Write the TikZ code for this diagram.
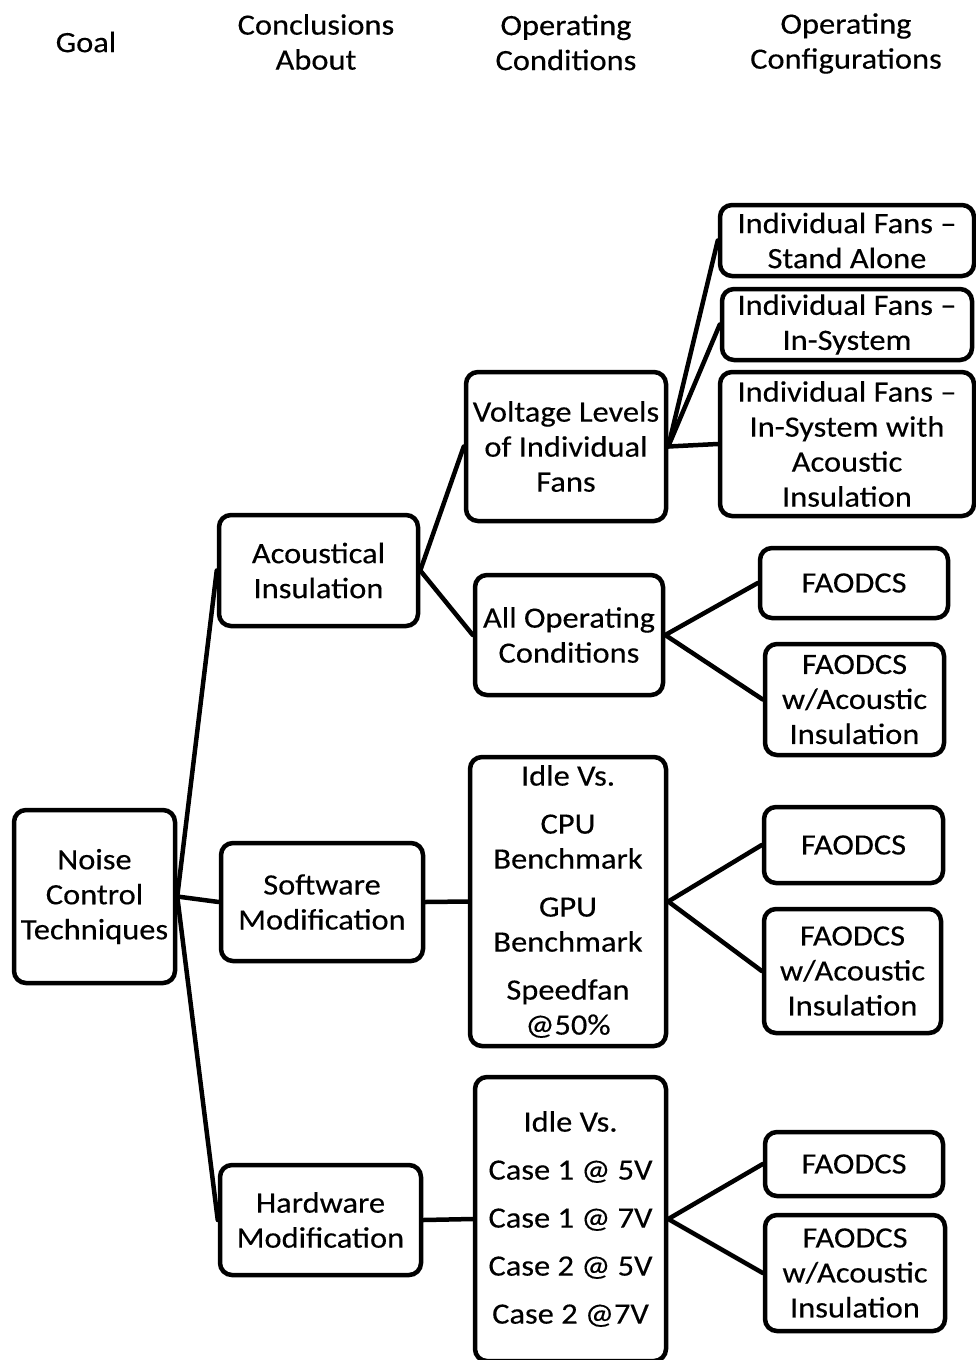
\documentclass[tikz,border=0pt]{standalone}
\usepackage{fontspec}
\setmainfont{Carlito}[FakeStretch=1.1,FakeBold=0.3]
\begin{document}
\begin{tikzpicture}[x=1pt,y=-1pt,
  every node/.style={font=\fontsize{29.5}{35}\selectfont},
  box/.style={draw, line width=4.5pt, rounded corners=12pt, align=center,
              inner sep=0pt, fill=white},
  head/.style={align=center, inner sep=0pt},
  link/.style={line width=4.5pt, line cap=round}]
\useasboundingbox (0,0) rectangle (976,1360);

% column headings
\node[head] (hgoal) at (86,42) {Goal};
\node[head] (hconc) at (316,42) {Conclusions\\About};
\node[head] (hcond) at (566,42.5) {Operating\\Conditions};
\node[head] (hconf) at (846,43.5) {Operating\\Configurations};

% goal
\node[box, minimum width=161, minimum height=173] (noise) at (94.5,896.5)
  {Noise\\Control\\Techniques};

% conclusions
\node[box, minimum width=199, minimum height=111] (acou) at (318.5,570.5)
  {Acoustical\\Insulation};
\node[box, minimum width=202, minimum height=118] (soft) at (322,902)
  {Software\\Modification};
\node[box, minimum width=201, minimum height=110] (hard) at (320.5,1220)
  {Hardware\\Modification};

% operating conditions
\node[box, minimum width=200, minimum height=149] (volt) at (566,446.5)
  {Voltage Levels\\of Individual\\Fans};
\node[box, minimum width=188, minimum height=120] (allop) at (569,635)
  {All Operating\\Conditions};
\node[box, minimum width=196, minimum height=289] (idle) at (568,901.5)
  {Idle Vs.\\[13pt]CPU\\Benchmark\\[13pt]GPU\\Benchmark\\[13pt]Speedfan\\@50\%};
\node[box, minimum width=191, minimum height=284] (cases) at (570.5,1219)
  {Idle Vs.\\[13pt]Case 1 @ 5V\\[13pt]Case 1 @ 7V\\[13pt]Case 2 @ 5V\\[13pt]Case 2 @7V};

% operating configurations
\node[box, minimum width=254, minimum height=71] (fan1) at (847,240.5)
  {Individual Fans –\\Stand Alone};
\node[box, minimum width=250, minimum height=71] (fan2) at (847,324.5)
  {Individual Fans –\\In-System};
\node[box, minimum width=254, minimum height=144] (fan3) at (847,444)
  {Individual Fans –\\In-System with\\Acoustic\\Insulation};
\node[box, minimum width=188, minimum height=70] (fa1) at (854,583) {FAODCS};
\node[box, minimum width=179, minimum height=111] (faw1) at (854.5,699.5)
  {FAODCS\\w/Acoustic\\Insulation};
\node[box, minimum width=179, minimum height=76] (fa2) at (853.5,845) {FAODCS};
\node[box, minimum width=177, minimum height=124] (faw2) at (852.5,971)
  {FAODCS\\w/Acoustic\\Insulation};
\node[box, minimum width=178, minimum height=64] (fa3) at (854,1164) {FAODCS};
\node[box, minimum width=180, minimum height=116] (faw3) at (855,1273)
  {FAODCS\\w/Acoustic\\Insulation};

% connectors
\draw[link] (noise.east) -- (acou.west);
\draw[link] (noise.east) -- (soft.west);
\draw[link] (noise.east) -- (hard.west);
\draw[link] (acou.east) -- (volt.west);
\draw[link] (acou.east) -- (allop.west);
\draw[link] (soft.east) -- (idle.west);
\draw[link] (hard.east) -- (cases.west);
\draw[link] (volt.east) -- (fan1.west);
\draw[link] (volt.east) -- (fan2.west);
\draw[link] (volt.east) -- (fan3.west);
\draw[link] (allop.east) -- (fa1.west);
\draw[link] (allop.east) -- (faw1.west);
\draw[link] (idle.east) -- (fa2.west);
\draw[link] (idle.east) -- (faw2.west);
\draw[link] (cases.east) -- (fa3.west);
\draw[link] (cases.east) -- (faw3.west);
\end{tikzpicture}
\end{document}
